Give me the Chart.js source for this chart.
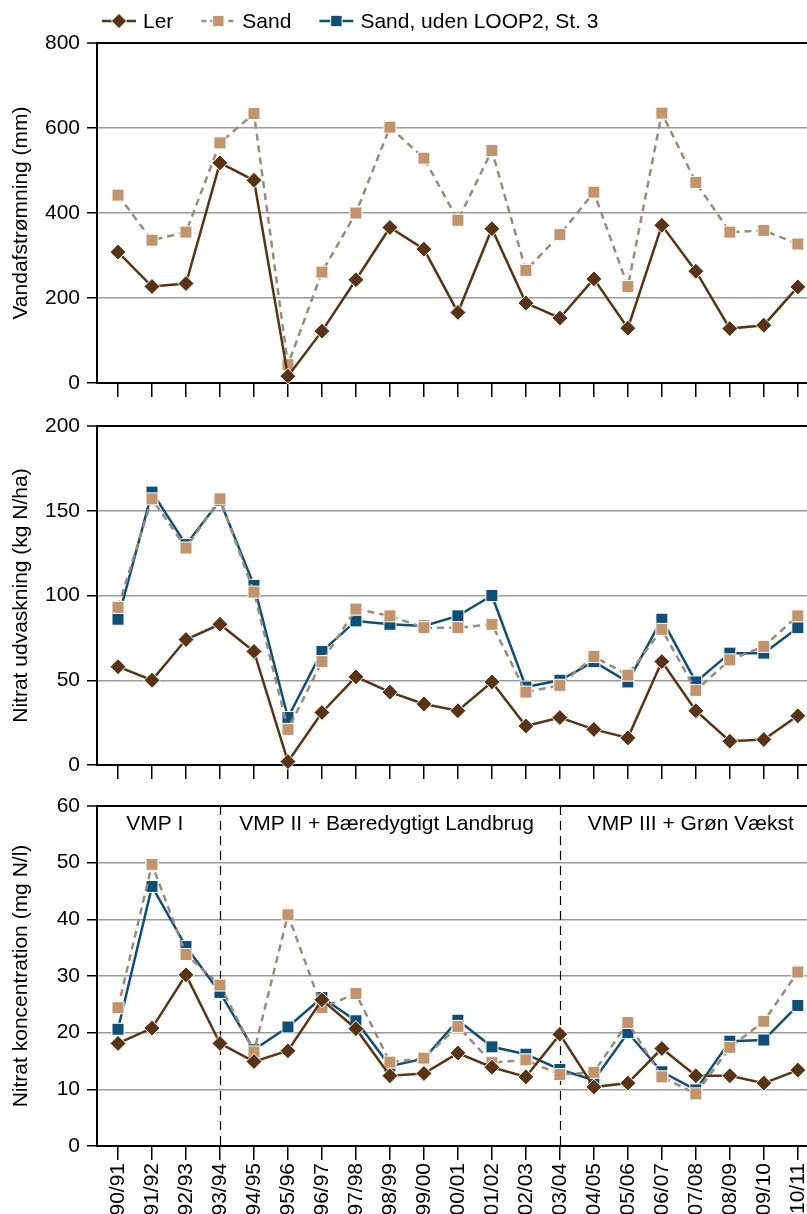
<!DOCTYPE html>
<html>
<head>
<meta charset="utf-8">
<script src="https://cdn.jsdelivr.net/npm/chart.js@4"></script>
<style>
  html, body { margin: 0; padding: 0; background: #fff; }
  body { width: 807px; height: 1214px; position: relative; overflow: hidden; }
  canvas { position: absolute; left: 0; }
</style>
</head>
<body>
<canvas id="c1" width="807" height="400" style="top:0px"></canvas>
<canvas id="c2" width="807" height="385" style="top:400px"></canvas>
<canvas id="c3" width="807" height="429" style="top:785px"></canvas>
<script>
// ---------- data ----------
const categories = ['90/91','91/92','92/93','93/94','94/95','95/96','96/97','97/98','98/99','99/00',
  '00/01','01/02','02/03','03/04','04/05','05/06','06/07','07/08','08/09','09/10','10/11'];
const seriesNames = ['Ler', 'Sand', 'Sand, uden LOOP2, St. 3'];

const lerFlow  = [308, 227, 234, 518, 477, 16, 122, 243, 366, 315, 166, 363, 188, 153, 245, 129, 371, 263, 128, 136, 226];
const sandFlow = [442, 336, 355, 565, 634, 43, 261, 400, 602, 529, 383, 547, 265, 349, 449, 227, 635, 472, 355, 359, 327];

const lerLeach  = [58, 50, 74, 83, 67, 2, 31, 52, 43, 36, 32, 49, 23, 28, 21, 16, 61, 32, 14, 15, 29];
const sandLeach = [93, 157, 128, 157, 102, 21, 61, 92, 88, 81, 81, 83, 43, 47, 64, 53, 80, 44, 62, 70, 88];
const sandNoLoopLeach = [86, 161, 130, 156, 106, 28, 67, 85, 83, 82, 88, 100, 46, 50, 61, 49, 86, 49, 66, 66, 81];

const lerConc  = [18.1, 20.8, 30.2, 18.1, 14.9, 16.8, 25.8, 20.7, 12.4, 12.8, 16.4, 13.9, 12.2, 19.7, 10.4, 11.1, 17.2, 12.4, 12.4, 11.1, 13.4];
const sandConc = [24.4, 49.7, 33.8, 28.4, 16.6, 40.8, 24.4, 26.9, 14.8, 15.5, 21.1, 14.7, 15.2, 12.6, 13.0, 21.8, 12.2, 9.2, 17.4, 22.0, 30.7];
const sandNoLoopConc = [20.6, 45.8, 35.2, 27.1, 17.0, 21.0, 26.2, 22.1, 14.1, 15.4, 22.2, 17.5, 16.2, 13.5, 11.6, 20.0, 13.1, 9.9, 18.5, 18.7, 24.8];

const flowTicks  = {max: 800, step: 200};
const leachTicks = {max: 200, step: 50};
const concTicks  = {max: 60, step: 10};

const periodLabels = ['VMP I', 'VMP II + Bæredygtigt Landbrug', 'VMP III + Grøn Vækst'];
const periodBreaks = ['93/94', '03/04'];

const yTitles = ['Vandafstrømning (mm)', 'Nitrat udvaskning (kg N/ha)', 'Nitrat koncentration (mg N/l)'];

// ---------- styles ----------
const FONT = "'Liberation Sans', Arial, Helvetica, sans-serif";
Chart.defaults.font.family = FONT;
Chart.defaults.font.size = 21;
Chart.defaults.color = '#000';

const styles = [
  {color: '#5a3412', marker: '#5a3412', dash: [], pointStyle: 'rectRot', radius: 8},
  {color: '#9c8b7d', marker: '#c39469', dash: [7, 5], pointStyle: 'rect', radius: 8.5},
  {color: '#0c5079', marker: '#0c5079', dash: [], pointStyle: 'rect', radius: 8.5}
];

function makeDataset(idx, values) {
  const s = styles[idx];
  return {
    label: seriesNames[idx],
    data: values.map((v, i) => ({x: i, y: v})),
    borderColor: s.color,
    borderWidth: 2.5,
    borderDash: s.dash,
    pointStyle: s.pointStyle,
    pointRadius: s.radius,
    pointBackgroundColor: s.marker,
    pointBorderColor: '#ffffff',
    pointBorderWidth: 1,
    tension: 0,
    fill: false,
    clip: false
  };
}

// legend drawn at top of first panel
const legendPlugin = {
  id: 'customLegend',
  afterDraw(chart) {
    const ctx = chart.ctx;
    ctx.save();
    ctx.font = '21px ' + FONT;
    ctx.textBaseline = 'middle';
    ctx.textAlign = 'left';
    let x = 102;
    const y = 21;
    seriesNames.forEach((name, i) => {
      const s = styles[i];
      ctx.strokeStyle = s.color;
      ctx.lineWidth = 2.5;
      ctx.setLineDash(s.dash.length ? [5, 4] : []);
      ctx.beginPath(); ctx.moveTo(x, y); ctx.lineTo(x + 34, y); ctx.stroke();
      ctx.setLineDash([]);
      ctx.fillStyle = s.marker;
      ctx.strokeStyle = '#fff';
      ctx.lineWidth = 1;
      ctx.beginPath();
      if (s.pointStyle === 'rectRot') {
        const r = s.radius * 0.95;
        ctx.moveTo(x + 17, y - r); ctx.lineTo(x + 17 + r, y); ctx.lineTo(x + 17, y + r); ctx.lineTo(x + 17 - r, y); ctx.closePath();
      } else {
        const h = s.radius * Math.SQRT1_2 * 0.95;
        ctx.rect(x + 17 - h, y - h, 2 * h, 2 * h);
      }
      ctx.fill(); ctx.stroke();
      ctx.fillStyle = '#000';
      ctx.fillText(name, x + 41, y + 1);
      x += 41 + ctx.measureText(name).width + 28;
    });
    ctx.restore();
  }
};

const periodPlugin = {
  id: 'periods',
  beforeDatasetsDraw(chart) {
    const {ctx, chartArea, scales} = chart;
    ctx.save();
    ctx.strokeStyle = '#000';
    ctx.lineWidth = 1.2;
    ctx.setLineDash([9, 6]);
    periodBreaks.forEach(b => {
      const px = Math.round(scales.x.getPixelForValue(categories.indexOf(b))) + 0.5;
      ctx.beginPath(); ctx.moveTo(px, chartArea.top); ctx.lineTo(px, chartArea.bottom); ctx.stroke();
    });
    ctx.setLineDash([]);
    ctx.font = '21px ' + FONT;
    ctx.fillStyle = '#000';
    ctx.textAlign = 'center';
    ctx.textBaseline = 'middle';
    const centers = [1.08, 7.9, 16.85];
    const yText = scales.y.getPixelForValue(56.8);
    periodLabels.forEach((t, i) => {
      ctx.fillText(t, scales.x.getPixelForValue(centers[i]), yText);
    });
    ctx.restore();
  }
};

function makeChart(id, datasets, ticksCfg, title, opts) {
  const ctx = document.getElementById(id);
  return new Chart(ctx, {
    type: 'line',
    data: {datasets},
    options: {
      responsive: false,
      animation: false,
      devicePixelRatio: 1,
      layout: {autoPadding: false, padding: {top: opts.padTop, left: 0, right: 0, bottom: 0}},
      plugins: {legend: {display: false}, tooltip: {enabled: false}},
      scales: {
        x: {
          type: 'linear',
          min: -0.618,
          max: 20.27,
          afterBuildTicks: s => { s.ticks = categories.map((c, i) => ({value: i})); },
          afterFit: s => { s.height = opts.xHeight; s.paddingLeft = 0; s.paddingRight = 0; },
          grid: {display: true, drawOnChartArea: false, drawTicks: true, tickLength: 14, color: '#000', lineWidth: 1.5},
          border: {display: true, color: '#000', width: 2},
          ticks: {
            display: opts.showLabels,
            autoSkip: false,
            minRotation: 90,
            maxRotation: 90,
            padding: 3,
            font: {size: 21},
            callback: v => categories[v]
          }
        },
        y: {
          min: 0,
          max: ticksCfg.max,
          afterFit: s => { s.width = 97; s.paddingTop = 0; s.paddingBottom = 0; },
          ticks: {stepSize: ticksCfg.step, padding: 7, font: {size: 21}},
          grid: {
            tickLength: 10,
            color: c => (c.tick && (c.tick.value === ticksCfg.max || c.tick.value === 0)) ? '#000' : '#9a9a9a',
            lineWidth: c => (c.tick && c.tick.value === ticksCfg.max) ? 2 : 1.5,
            tickColor: '#000',
            tickWidth: 1.5
          },
          border: {display: true, color: '#000', width: 2},
          title: {display: true, text: title, font: {size: 21}, padding: {top: 9, bottom: 0}}
        }
      }
    },
    plugins: opts.plugins || []
  });
}

makeChart('c1', [makeDataset(0, lerFlow), makeDataset(1, sandFlow)], flowTicks, yTitles[0],
  {padTop: 43, xHeight: 17, showLabels: false, plugins: [legendPlugin]});
makeChart('c2', [makeDataset(0, lerLeach), makeDataset(1, sandLeach), makeDataset(2, sandNoLoopLeach)], leachTicks, yTitles[1],
  {padTop: 26, xHeight: 20, showLabels: false});
makeChart('c3', [makeDataset(0, lerConc), makeDataset(1, sandConc), makeDataset(2, sandNoLoopConc)], concTicks, yTitles[2],
  {padTop: 21, xHeight: 68, showLabels: true, plugins: [periodPlugin]});
</script>
</body>
</html>
